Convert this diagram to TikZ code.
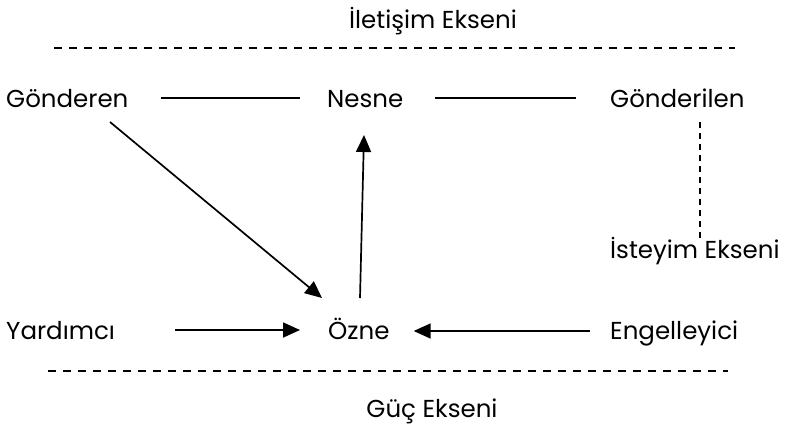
\documentclass[tikz,border=0pt]{standalone}
\usepackage{fontspec}
\setmainfont{Poppins}
\usetikzlibrary{arrows.meta}
\begin{document}
\begin{tikzpicture}[x=1pt,y=-1pt,
  lbl/.style={anchor=base west,inner sep=0pt,font=\fontsize{24.5}{28}\selectfont},
  clbl/.style={anchor=base,inner sep=0pt,font=\fontsize{24.5}{28}\selectfont},
  conn/.style={line width=1.7pt},
  arr/.style={line width=1.7pt,-{Triangle[length=17pt,width=15pt]}},
  axis/.style={line width=1.5pt,dash pattern=on 8pt off 7pt},
  vaxis/.style={line width=1.5pt,dash pattern=on 6pt off 5pt}]
\useasboundingbox (0,0) rectangle (789,426);
\node[clbl] (ilet) at (433,28) {İletişim Ekseni};
\node[lbl] (gon) at (6,107) {Gönderen};
\node[lbl] (nes) at (327,107) {Nesne};
\node[lbl] (gil) at (610,107) {Gönderilen};
\node[lbl] (ist) at (610,258) {İsteyim Ekseni};
\node[lbl] (yar) at (6,339) {Yardımcı};
\node[lbl] (ozn) at (328,339) {Özne};
\node[lbl] (eng) at (610,339) {Engelleyici};
\node[clbl] (guc) at (432,417) {Güç Ekseni};
\coordinate (t1) at (54,48);
\coordinate (t2) at (735,48);
\coordinate (b1) at (48,371);
\coordinate (b2) at (728,371);
\draw[axis] (t1) -- (t2);
\draw[axis] (b1) -- (b2);
\draw[conn] ([xshift=32pt,yshift=9pt]gon.base east) -- ([xshift=-27pt,yshift=9pt]nes.base west);
\draw[conn] ([xshift=32pt,yshift=9pt]nes.base east) -- ([xshift=-34pt,yshift=9pt]gil.base west);
\draw[vaxis] ([xshift=90pt,yshift=-15pt]gil.base west) -- ([xshift=90pt,yshift=20pt]ist.base west);
\draw[arr] ([xshift=60pt,yshift=9pt]yar.base east) -- ([xshift=-28pt,yshift=9pt]ozn.base west);
\draw[arr] ([xshift=-20pt,yshift=8pt]eng.base west) -- ([xshift=24pt,yshift=8pt]ozn.base east);
\draw[arr] ([xshift=104pt,yshift=-15pt]gon.base west) -- ([xshift=-6pt,yshift=41pt]ozn.base west);
\draw[arr] ([xshift=32pt,yshift=41pt]ozn.base west) -- ([xshift=37pt,yshift=-28pt]nes.base west);
\end{tikzpicture}
\end{document}
